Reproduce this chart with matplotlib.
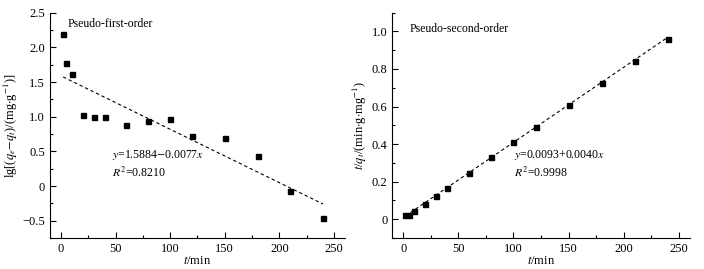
import matplotlib
matplotlib.use("Agg")
import matplotlib.pyplot as plt
from matplotlib.ticker import MultipleLocator, FuncFormatter
import numpy as np

plt.rcParams['font.family'] = ['Liberation Serif', 'DejaVu Serif']
plt.rcParams['mathtext.fontset'] = 'stix'
plt.rcParams['font.size'] = 9

# 시간 (min)
t = [2, 5, 10, 20, 30, 40, 60, 80, 100, 120, 150, 180, 210, 240]
# 유사 1차: lg(qe - qt)
lg_qe_qt = [2.19, 1.78, 1.62, 1.02, 0.99, 0.99, 0.875, 0.94, 0.96, 0.715, 0.69, 0.43, -0.07, -0.46]
# 유사 2차: t/qt
t_qt = [0.025, 0.025, 0.046, 0.083, 0.124, 0.167, 0.246, 0.332, 0.413, 0.489, 0.610, 0.727, 0.842, 0.961]

fit1 = (1.5884, -0.0077)
fit2 = (0.0093, 0.0040)


def fmt(v, pos):
    if abs(v) < 1e-9:
        return "0"
    return f"{v:.1f}".replace("-", "\u2212")


fig = plt.figure(figsize=(7.04, 2.69), dpi=100)
ax1 = fig.add_axes([0.071, 0.115, 0.419, 0.838])
ax2 = fig.add_axes([0.557, 0.115, 0.423, 0.838])

tt = np.array([t[0], t[-1]])
for ax, y, fit in [(ax1, lg_qe_qt, fit1), (ax2, t_qt, fit2)]:
    ax.plot(t, y, 's', color='black', markersize=3.6)
    ax.plot(tt, fit[0] + fit[1] * tt, '--', color='black', lw=0.8, dashes=(3, 2.5))
    ax.spines['top'].set_visible(False)
    ax.spines['right'].set_visible(False)
    ax.set_xlim(-10, 260)
    ax.xaxis.set_major_locator(MultipleLocator(50))
    ax.xaxis.set_minor_locator(MultipleLocator(25))
    ax.tick_params(which='both', direction='in', top=False, right=False)
    ax.tick_params(which='major', length=4, width=0.8)
    ax.tick_params(which='minor', length=2.5, width=0.8)
    ax.yaxis.set_major_formatter(FuncFormatter(fmt))
    ax.set_xlabel(r"$t$/min", labelpad=0)

ax1.set_ylim(-0.75, 2.5)
ax1.yaxis.set_major_locator(MultipleLocator(0.5))
ax1.yaxis.set_minor_locator(MultipleLocator(0.25))
ax1.set_ylabel(r"lg[($q_e$$-$$q_t$)/(mg$\cdot$g$^{-1}$)]", labelpad=2)
ax1.text(0.06, 0.975, "Pseudo-first-order", transform=ax1.transAxes, va='top', fontsize=8.5)
ax1.text(0.21, 0.33, r"$y$=1.5884$-$0.0077$x$" + "\n" + r"$R^2$=0.8210",
         transform=ax1.transAxes, va='center', fontsize=8.5, linespacing=1.3)

ax2.set_ylim(-0.1, 1.1)
ax2.yaxis.set_major_locator(MultipleLocator(0.2))
ax2.yaxis.set_minor_locator(MultipleLocator(0.1))
ax2.set_ylabel(r"$t$/$q_t$/(min$\cdot$g$\cdot$mg$^{-1}$)", labelpad=2)
ax2.text(0.06, 0.955, "Pseudo-second-order", transform=ax2.transAxes, va='top', fontsize=8.5)
ax2.text(0.41, 0.33, r"$y$=0.0093+0.0040$x$" + "\n" + r"$R^2$=0.9998",
         transform=ax2.transAxes, va='center', fontsize=8.5, linespacing=1.3)

plt.savefig("out.png", dpi=100)
